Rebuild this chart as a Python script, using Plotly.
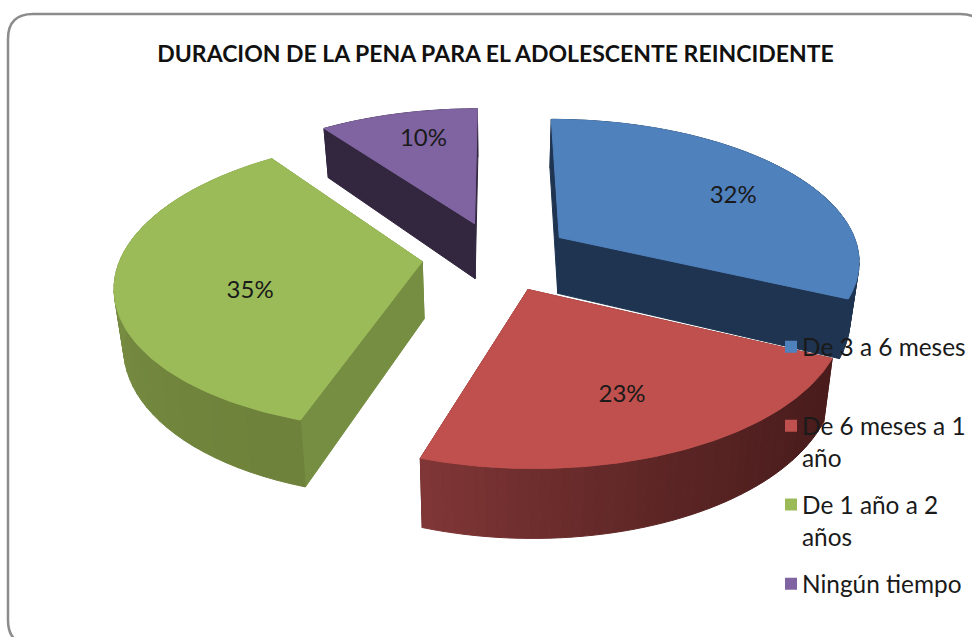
import numpy as np
import plotly.graph_objects as go

categories = ["De 3 a 6 meses<br>\u00a0", "De 6 meses a 1<br>año", "De 1 año a 2<br>años", "Ningún tiempo"]
values = [32, 23, 35, 10]
pct_labels = ["32%", "23%", "35%", "10%"]
top_colors = ["#4F81BD", "#C0504D", "#9BBB59", "#8064A2"]
wall_colors = ["#1F3450", "#5A2220", "#768E42", "#33273F"]
rim_ramps = [("#1F3450", "#1F3450"), ("#4A1C1C", "#803636"), ("#6F823B", "#87A24D"), ("#33273F", "#33273F")]
title = "DURACION DE LA PENA PARA EL ADOLESCENTE REINCIDENTE"

CX, CY, FX, FY, K, DEPTH, EXPLODE, TAPER = 497.0, 256.0, 301.0, 141.0, 0.15, 57.0, 0.25, 0.025
LABEL_NUDGE = [(34, 1), (10, 15), (11, 17), (-3, -14)]


def proj(wx, wy, wz=0.0):
    d = 1 + K * wy
    s = 1 - TAPER * wz / DEPTH
    return CX + FX * wx / d * s, CY - FY * wy / d + wz / d


def hex2rgb(h):
    return np.array([int(h[i:i + 2], 16) for i in (1, 3, 5)], float)


def mix(a, b, t):
    c = hex2rgb(a) * (1 - t) + hex2rgb(b) * t
    return "rgb(%d,%d,%d)" % tuple(c.round())


def poly(pts, color):
    pts = list(pts) + [pts[0]]
    return go.Scatter(x=[p[0] for p in pts], y=[p[1] for p in pts], mode="lines", fill="toself", fillcolor=color,
                      line=dict(color=color, width=1), hoverinfo="skip", showlegend=False)


total = sum(values)
edges = np.concatenate([[0], np.cumsum(values)]) / total * 2 * np.pi
slices = []
for i in range(len(values)):
    a0, a1 = edges[i], edges[i + 1]
    mid = (a0 + a1) / 2
    ox, oy = EXPLODE * np.sin(mid), EXPLODE * np.cos(mid)
    slices.append((i, a0, a1, mid, ox, oy))

fig = go.Figure()
# back-to-front drawing order
for i, a0, a1, mid, ox, oy in [slices[j] for j in (3, 2, 0, 1)]:
    th = np.linspace(a0, a1, 120)
    rx, ry = ox + np.sin(th), oy + np.cos(th)
    # radial walls
    for a in (a0, a1):
        wx, wy = ox + np.sin(a), oy + np.cos(a)
        fig.add_trace(poly([proj(ox, oy), proj(wx, wy), proj(wx, wy, DEPTH), proj(ox, oy, DEPTH)], wall_colors[i]))
    # rim wall, shaded band by band
    n_band = 48
    seg = np.linspace(a0, a1, n_band + 1)
    ramp = rim_ramps[i]
    for b in range(n_band):
        t = np.linspace(seg[b], seg[b + 1], 4)
        sx, sy = ox + np.sin(t), oy + np.cos(t)
        up = [proj(x, y) for x, y in zip(sx, sy)]
        dn = [proj(x, y, DEPTH) for x, y in zip(sx, sy)][::-1]
        fig.add_trace(poly(up + dn, mix(ramp[0], ramp[1], (b / (n_band - 1)) ** 1.6)))
    # top face
    fig.add_trace(poly([proj(ox, oy)] + [proj(x, y) for x, y in zip(rx, ry)], top_colors[i]))

# percent labels
lab_x, lab_y = [], []
for i, a0, a1, mid, ox, oy in slices:
    x, y = proj(ox + 0.6 * np.sin(mid), oy + 0.6 * np.cos(mid))
    lab_x.append(x + LABEL_NUDGE[i][0])
    lab_y.append(y + LABEL_NUDGE[i][1])
fig.add_trace(go.Scatter(x=lab_x, y=lab_y, mode="text", text=pct_labels, showlegend=False, hoverinfo="skip",
                         textfont=dict(family="Lato", size=24, color="#1a1a1a")))

# legend
for i, name in enumerate(categories):
    fig.add_trace(go.Scatter(x=[None], y=[None], mode="markers", name=name, legendgroup=str(i),
                             marker=dict(symbol="square", size=14, color=top_colors[i])))

fig.update_layout(
    width=972, height=637, margin=dict(l=0, r=0, t=0, b=0), autosize=False,
    paper_bgcolor="white", plot_bgcolor="white",
    xaxis=dict(range=[0, 972], visible=False, fixedrange=True),
    yaxis=dict(range=[637, 0], visible=False, fixedrange=True),
    title=dict(text="<b>" + title + "</b>", x=495.5 / 972, xanchor="center", y=1 - 54 / 637, yanchor="middle",
               font=dict(family="Lato", size=23, color="#111111")),
    legend=dict(x=762 / 972, y=1 - 324.5 / 637, xanchor="left", yanchor="top", bgcolor="rgba(0,0,0,0)",
                font=dict(family="Lato", size=24.4, color="#1a1a1a"), tracegroupgap=12.5,
                itemsizing="constant", itemwidth=30),
    shapes=[dict(type="path", layer="above", line=dict(color="#8c8c8c", width=2.5),
                 path="M 33 14 L 960 14 Q 985 14 985 39 L 985 620 Q 985 645 960 645 L 33 645 Q 8 645 8 620 L 8 39 Q 8 14 33 14 Z")],
)

# remove the page margin; line the legend keys up with the first line of each entry
post = """
document.body.style.margin = '0';
document.querySelectorAll('.legend .traces').forEach(function (t) {
  var two = t.querySelectorAll('.legendtext tspan.line').length > 1;
  var g = t.querySelector('.legendsymbols');
  if (g) g.setAttribute('transform', 'translate(9,' + (two ? -16 : 0) + ')');
});
"""
fig.write_html("out.html", post_script=post, config=dict(displayModeBar=False))
